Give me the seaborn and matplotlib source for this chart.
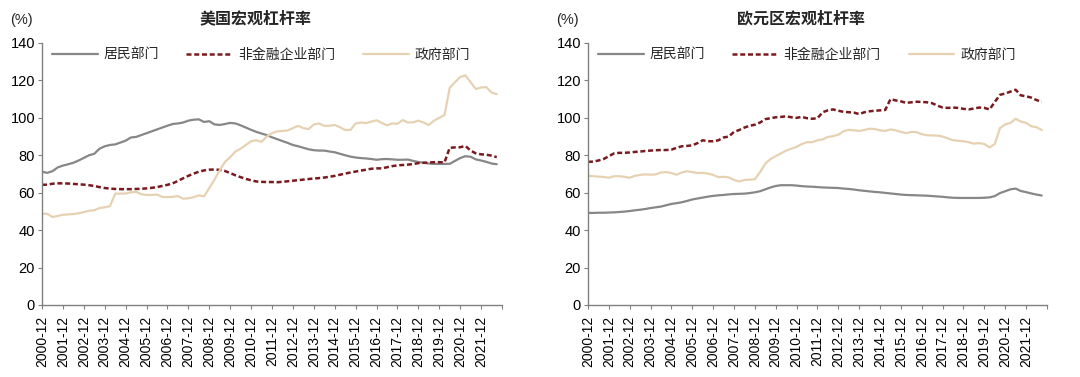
import numpy as np
import pandas as pd
import matplotlib
matplotlib.use("Agg")
import matplotlib.pyplot as plt
import seaborn as sns

# ----------------------------- Data (quarterly, 2000-12 .. 2022-09) -----------------------------

tick_labels = ["2000-12", "2001-12", "2002-12", "2003-12", "2004-12", "2005-12",
               "2006-12", "2007-12", "2008-12", "2009-12", "2010-12", "2011-12",
               "2012-12", "2013-12", "2014-12", "2015-12", "2016-12", "2017-12",
               "2018-12", "2019-12", "2020-12", "2021-12"]

us_household = [
    71.2, 70.6, 71.5, 73.5, 74.5, 75.2, 76.0, 77.2, 78.6, 80.0, 80.8, 83.5,
    84.8, 85.5, 85.8, 86.8, 87.8, 89.5, 89.8, 90.8, 91.8, 92.8, 93.8, 94.8,
    95.8, 96.7, 97.0, 97.5, 98.5, 99.0, 99.2, 97.8, 98.2, 96.5, 96.2, 96.7,
    97.3, 97.0, 96.0, 94.8, 93.6, 92.5, 91.6, 90.8, 89.6, 88.6, 87.6, 86.6,
    85.5, 84.8, 84.0, 83.2, 82.7, 82.5, 82.5, 82.0, 81.6, 80.8, 80.0, 79.3,
    78.8, 78.5, 78.3, 78.0, 77.6, 77.9, 78.0, 77.8, 77.6, 77.6, 77.7, 77.0,
    76.4, 76.0, 75.6, 75.4, 75.4, 75.4, 75.4, 77.0, 78.5, 79.5, 79.2, 77.8,
    77.2, 76.5, 75.6, 75.2]

us_corporate = [
    64.2, 64.3, 64.8, 65.0, 65.0, 64.9, 64.7, 64.5, 64.3, 64.0, 63.6, 63.0,
    62.5, 62.2, 62.0, 61.9, 61.9, 61.9, 62.0, 62.1, 62.3, 62.6, 63.0, 63.6,
    64.2, 65.0, 66.3, 67.7, 69.0, 70.2, 71.2, 71.9, 72.3, 72.4, 72.2, 71.6,
    70.5, 69.3, 68.3, 67.4, 66.6, 66.0, 65.8, 65.7, 65.7, 65.6, 65.8, 66.1,
    66.4, 66.7, 67.0, 67.3, 67.6, 67.8, 68.1, 68.5, 69.0, 69.6, 70.2, 70.8,
    71.3, 71.8, 72.3, 72.8, 73.0, 73.0, 73.6, 74.2, 74.6, 74.8, 75.0, 75.3,
    75.8, 76.0, 76.1, 76.3, 76.3, 76.2, 84.0, 84.2, 84.3, 85.0, 82.5, 81.0,
    80.5, 80.3, 79.8, 79.0]

us_government = [
    48.8, 48.7, 47.0, 47.6, 48.2, 48.4, 48.6, 49.0, 49.6, 50.4, 50.6, 51.8,
    52.2, 52.8, 59.5, 59.5, 59.6, 60.2, 60.5, 59.2, 58.8, 58.8, 59.0, 57.8,
    57.6, 57.8, 58.2, 56.8, 57.0, 57.6, 58.6, 58.0, 62.5, 67.0, 72.0, 76.5,
    79.0, 82.0, 83.5, 85.5, 87.5, 88.0, 87.2, 90.0, 91.8, 92.8, 93.0, 93.3,
    94.5, 95.7, 94.5, 94.0, 96.5, 97.0, 95.7, 95.8, 96.2, 95.0, 93.5, 93.5,
    97.0, 97.5, 97.2, 98.0, 98.7, 97.3, 96.0, 97.0, 96.8, 98.8, 97.5, 97.6,
    98.5, 97.5, 96.2, 98.5, 100.0, 101.5, 116.0, 119.0, 121.8, 122.7, 119.0, 115.4,
    116.2, 116.4, 113.5, 112.7]

ez_household = [
    49.2, 49.2, 49.3, 49.3, 49.4, 49.5, 49.7, 49.9, 50.2, 50.6, 50.9, 51.3,
    51.8, 52.2, 52.6, 53.3, 54.0, 54.4, 54.9, 55.6, 56.4, 56.9, 57.4, 57.9,
    58.3, 58.6, 58.8, 59.1, 59.3, 59.4, 59.5, 59.8, 60.2, 60.8, 61.8, 62.8,
    63.6, 64.0, 64.0, 64.0, 63.8, 63.5, 63.3, 63.2, 63.0, 62.8, 62.7, 62.6,
    62.5, 62.2, 62.0, 61.7, 61.3, 61.0, 60.7, 60.4, 60.2, 59.9, 59.6, 59.3,
    59.0, 58.8, 58.7, 58.6, 58.5, 58.4, 58.2, 58.0, 57.8, 57.5, 57.3, 57.2,
    57.2, 57.2, 57.2, 57.2, 57.3, 57.5, 58.2, 59.8, 60.8, 61.8, 62.2, 60.9,
    60.3, 59.6, 59.0, 58.5]

ez_corporate = [
    76.5, 76.6, 77.2, 78.0, 79.5, 81.0, 81.3, 81.3, 81.5, 81.8, 82.0, 82.3,
    82.5, 82.7, 82.8, 82.8, 83.0, 84.0, 84.8, 85.0, 85.3, 86.5, 88.0, 87.5,
    87.5, 88.0, 89.5, 90.0, 92.5, 93.5, 94.8, 95.8, 96.3, 97.5, 99.3, 99.8,
    100.3, 100.5, 100.8, 100.3, 100.0, 100.5, 99.8, 99.5, 99.8, 103.0, 104.0, 104.5,
    103.8, 103.2, 103.0, 102.8, 102.0, 103.0, 103.5, 103.8, 104.0, 104.2, 110.0, 109.3,
    108.8, 108.0, 108.3, 108.6, 108.5, 108.3, 107.8, 106.5, 105.5, 105.3, 105.5, 105.3,
    104.8, 104.5, 105.0, 105.5, 105.3, 104.5, 108.5, 112.3, 113.0, 114.0, 115.0, 112.0,
    111.5, 110.8, 109.5, 108.5]

ez_government = [
    69.0, 68.8, 68.6, 68.4, 68.0, 68.8, 68.8, 68.5, 68.0, 69.0, 69.5, 69.8,
    69.6, 69.8, 70.8, 71.0, 70.5, 69.6, 70.8, 71.5, 71.0, 70.5, 70.6, 70.2,
    69.5, 68.3, 68.5, 68.2, 66.8, 66.0, 66.8, 67.0, 67.2, 71.0, 75.5, 78.0,
    79.5, 81.0, 82.5, 83.5, 84.5, 86.0, 87.0, 87.0, 88.0, 88.5, 89.8, 90.2,
    91.0, 92.8, 93.6, 93.3, 93.0, 93.5, 94.2, 94.0, 93.3, 93.0, 93.8, 93.3,
    92.5, 91.8, 92.5, 92.3, 91.3, 90.7, 90.6, 90.5, 90.0, 89.0, 88.0, 87.8,
    87.5, 87.0, 86.2, 86.5, 86.0, 84.2, 86.0, 94.5, 96.5, 97.3, 99.5, 98.0,
    97.3, 95.5, 95.0, 93.5]

series_names = ["居民部门", "非金融企业部门", "政府部门"]
colors = ["#878787", "#7a1a1f", "#e6d2b3"]

# ----------------------------- Plot -----------------------------

sns.set_style("white")
plt.rcParams['font.family'] = ['Liberation Sans', 'Noto Sans CJK SC', 'DejaVu Sans']
cjk = ['Noto Sans CJK SC', 'DejaVu Sans']

fig = plt.figure(figsize=(10.8, 3.77), dpi=100)
ax_l = fig.add_axes([0.0389, 0.191, 0.4259, 0.695])
ax_r = fig.add_axes([0.5444, 0.191, 0.4250, 0.695])

panels = [
    (ax_l, "美国宏观杠杆率", [us_household, us_corporate, us_government]),
    (ax_r, "欧元区宏观杠杆率", [ez_household, ez_corporate, ez_government]),
]

for ax, title, data in panels:
    x = np.arange(len(data[0]))
    sns.lineplot(x=x, y=data[0], ax=ax, color=colors[0], lw=1.6, label=series_names[0])
    sns.lineplot(x=x, y=data[1], ax=ax, color=colors[1], lw=1.8,
                 linestyle=(0, (2.0, 1.1)), label=series_names[1])
    sns.lineplot(x=x, y=data[2], ax=ax, color=colors[2], lw=1.6, label=series_names[2])

    ax.set_xlim(0, 88)
    ax.set_ylim(0, 140)
    ax.set_yticks(range(0, 141, 20))
    ax.set_xticks(range(0, 89, 4))
    ax.set_xticklabels(tick_labels + [""], rotation=90, fontsize=10)
    ax.tick_params(axis='y', labelsize=10.5, length=3, pad=2)
    ax.tick_params(axis='x', length=3, pad=5)
    ax.tick_params(axis='both', direction='out', bottom=True, left=True, colors='#808080',
                   labelcolor='black')
    for s in ['top', 'right']:
        ax.spines[s].set_visible(False)
    for s in ['left', 'bottom']:
        ax.spines[s].set_color('#808080')
        ax.spines[s].set_linewidth(1.0)

    ax.text(0.465, 1.095, title, transform=ax.transAxes, fontsize=11.5, fontweight='bold',
            ha='center', va='center', family=cjk)
    ax.text(-0.07, 1.088, "(%)", transform=ax.transAxes, fontsize=10.5, ha='left', va='center')

    ax.legend(loc='upper left', bbox_to_anchor=(0.0, 1.02), ncol=3, frameon=False,
              borderaxespad=0.3, handlelength=3.3, columnspacing=2.0, handletextpad=0.4,
              prop={'family': cjk, 'size': 10})

fig.savefig("out.png", dpi=100)
